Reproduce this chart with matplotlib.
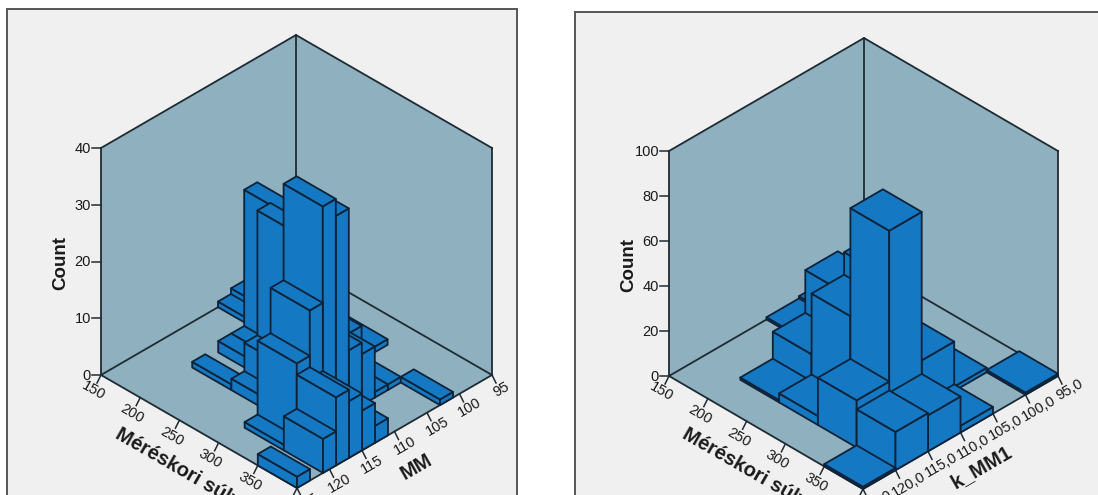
import matplotlib
matplotlib.use('Agg')
import matplotlib.pyplot as plt

plt.rcParams['font.family'] = ['Liberation Sans', 'DejaVu Sans']

# left chart: weight bin start, MM bin start, count
left_weight = [350, 350, 350, 350, 350, 350, 350,
               300, 300, 300, 300, 300, 300, 300, 300, 300,
               250, 250, 250, 250, 250,
               200, 200, 200, 200,
               150, 150]
left_mm = [123, 119, 117, 115, 113, 111, 101,
           119, 117, 115, 113, 111, 109, 107, 105, 103,
           115, 113, 111, 103, 99,
           115, 111, 109, 107,
           105, 103]
left_count = [2, 6, 12, 10, 7, 3, 1,
              1, 14, 22, 39, 36, 11, 9, 1, 1,
              2, 7, 29, 6, 1,
              1, 2, 2, 26,
              1, 2]

# right chart
right_weight = [350, 350, 350, 350, 350,
                300, 300, 300, 300,
                250, 250, 250,
                200, 200, 200,
                150, 150]
right_mm = [120, 115, 110, 105, 95,
            115, 110, 105, 100,
            115, 110, 105,
            115, 110, 105,
            105, 100]
right_count = [1, 17, 16, 3, 1,
               21, 88, 22, 2,
               4, 40, 50,
               1, 13, 32,
               1, 2]

weight_ticks = [150, 200, 250, 300, 350]
left_mm_ticks = [125, 120, 115, 110, 105, 100, 95]
right_mm_ticks = [125, 120, 115, 110, 105, 100, 95]
left_count_ticks = [0, 10, 20, 30, 40]
right_count_ticks = [0, 20, 40, 60, 80, 100]

WALL = '#8fb0bf'
PANEL = '#f0f0f0'
BAR = '#1478c2'
BAR_EDGE = '#0e2238'
LINE = '#1e2b33'
TEXT = '#1a1a1a'


def draw_panel(ax, box, left_x, right_x, back_x, floor_y, depth, count_max, zero_height,
               weights, mms, counts, bin_mm, mm_ticks, count_ticks, mm_fmt, mm_title, title_pos):
    # box is the grey frame, the rest is the cube in pixels
    ax.fill([box[0], box[2], box[2], box[0]], [box[1], box[1], box[3], box[3]],
            facecolor=PANEL, edgecolor='#555555', linewidth=1.4, zorder=0)

    def proj(w, m, c=0):
        u = (400 - w) / 250.0
        v = (125 - m) / 30.0
        x = back_x - u * (back_x - left_x) + v * (right_x - back_x)
        y = floor_y + 2 * depth - (u + v) * depth - c * zero_height / count_max
        return x, y

    # walls and floor
    corners = [(150, 125), (150, 95), (400, 95)]
    ax.fill(*zip(proj(150, 125), proj(150, 125, count_max), proj(150, 95, count_max), proj(150, 95)),
            facecolor=WALL, edgecolor='none', zorder=1)
    ax.fill(*zip(proj(150, 95), proj(150, 95, count_max), proj(400, 95, count_max), proj(400, 95)),
            facecolor=WALL, edgecolor='none', zorder=1)
    ax.fill(*zip(proj(150, 125), proj(150, 95), proj(400, 95), proj(400, 125)),
            facecolor=WALL, edgecolor='none', zorder=1)
    for a, b in [((150, 125), (150, 95)), ((150, 95), (400, 95)),
                 ((150, 125), (400, 125)), ((400, 95), (400, 125))]:
        ax.plot(*zip(proj(*a), proj(*b)), color=LINE, lw=1.3, zorder=2)
    for w, m in corners:
        ax.plot(*zip(proj(w, m), proj(w, m, count_max)), color=LINE, lw=1.3, zorder=2)
    ax.plot(*zip(proj(150, 125, count_max), proj(150, 95, count_max), proj(400, 95, count_max)),
            color=LINE, lw=1.3, zorder=2)

    # bars back to front
    order = sorted(range(len(counts)), key=lambda i: (weights[i], mms[i]))
    z = 3
    for i in order:
        w0, w1 = weights[i], weights[i] + 50
        m0, m1 = mms[i], mms[i] + bin_mm
        c = counts[i]
        faces = [
            [proj(w0, m1), proj(w1, m1), proj(w1, m1, c), proj(w0, m1, c)],
            [proj(w1, m1), proj(w1, m0), proj(w1, m0, c), proj(w1, m1, c)],
            [proj(w0, m0, c), proj(w1, m0, c), proj(w1, m1, c), proj(w0, m1, c)],
        ]
        for f in faces:
            ax.fill(*zip(*f), facecolor=BAR, edgecolor=BAR_EDGE, linewidth=1.3,
                    joinstyle='round', zorder=z)
        z += 1

    # count axis
    for c in count_ticks:
        x, y = proj(150, 125, c)
        ax.plot([x - 9, x], [y, y], color=LINE, lw=1.1, zorder=2)
        ax.text(x - 10, y + 1, str(c), ha='right', va='center', fontsize=10.5, color=TEXT)
    x0, y0 = proj(150, 125, count_max / 2.0)
    ax.text(x0 - 40, y0 + 1, 'Count', rotation=90, ha='center', va='center',
            fontsize=13.5, fontweight='bold', color=TEXT)

    # weight axis
    for w in weight_ticks:
        x, y = proj(w, 125)
        ax.plot([x, x - 4], [y, y + 8], color=LINE, lw=1.1, zorder=2)
        ax.text(x - 8, y + 16, str(w), rotation=-30, ha='center', va='center',
                fontsize=10.5, color=TEXT)
    x, y = proj(400, 125)
    ax.plot([x, x - 4], [y, y + 8], color=LINE, lw=1.1, zorder=2)
    ax.text(title_pos[0], title_pos[1], 'Méréskori súly', rotation=-30, ha='left', va='center',
            rotation_mode='anchor', fontsize=14.5, fontweight='bold', color=TEXT)

    # MM axis
    for m in mm_ticks:
        x, y = proj(400, m)
        ax.plot([x, x + 4], [y, y + 8], color=LINE, lw=1.1, zorder=2)
        ax.text(x + 9 + 2 * (len(mm_fmt % m) - 2) / 1.5, y + 14, mm_fmt % m, rotation=30,
                ha='center', va='center', fontsize=10.5, color=TEXT)
    ax.text(title_pos[2], title_pos[3], mm_title, rotation=30, ha='center', va='center',
            fontsize=14.5, fontweight='bold', color=TEXT)


fig = plt.figure(figsize=(10.98, 4.95), dpi=100, facecolor='white')
ax = fig.add_axes([0, 0, 1, 1])
ax.set_xlim(0, 1098)
ax.set_ylim(495, 0)
ax.axis('off')

draw_panel(ax, (7, 9, 517, 520), 101, 492, 297, 262, 113, 40, 227,
           left_weight, left_mm, left_count, 2, left_mm_ticks, left_count_ticks,
           '%d', 'MM', (117, 433, 416, 467))
draw_panel(ax, (575, 12, 1110, 520), 669, 1058, 863, 263, 113, 100, 225,
           right_weight, right_mm, right_count, 5, right_mm_ticks, right_count_ticks,
           '%d,0', 'k_MM1', (684, 433, 981, 467))

fig.savefig('out.png', dpi=100)
